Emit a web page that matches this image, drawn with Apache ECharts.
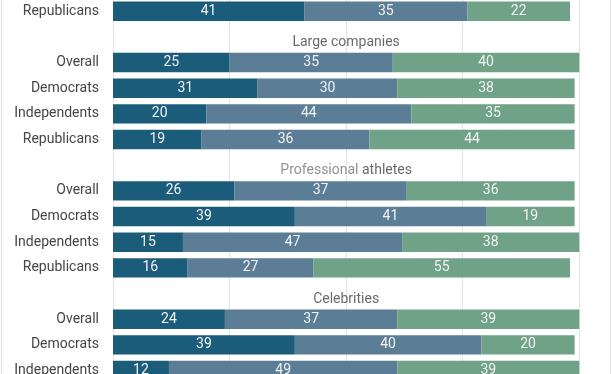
<!DOCTYPE html>
<html>
<head>
<meta charset="utf-8">
<script src="https://cdn.jsdelivr.net/npm/echarts@6/dist/echarts.min.js"></script>
<style>
html,body{margin:0;padding:0;background:#fff;}
#chart{width:612px;height:374px;}
</style>
</head>
<body>
<div id="chart"></div>
<script>
// Row labels (empty rows hold the group titles)
const categories = ['Republicans', '', 'Overall', 'Democrats', 'Independents', 'Republicans', '', 'Overall', 'Democrats', 'Independents', 'Republicans', '', 'Overall', 'Democrats', 'Independents'];
const titleRows = [1, 6, 11];
const groupTitles = ['Large companies', 'Professional athletes', 'Celebrities'];
const seg1 = [41, null, 25, 31, 20, 19, null, 26, 39, 15, 16, null, 24, 39, 12];
const seg2 = [35, null, 35, 30, 44, 36, null, 37, 41, 47, 27, null, 37, 40, 49];
const seg3 = [22, null, 40, 38, 35, 44, null, 36, 19, 38, 55, null, 39, 20, 39];
const xTicks = [0, 25, 50, 75, 100];

const colors = ['#1b5c7b', '#5b7e96', '#6fa287'];
const chart = echarts.init(document.getElementById('chart'));

const segLabel = {
  show: true, position: 'inside', color: '#f2f2f2',
  fontFamily: 'Roboto', fontSize: 14,
  formatter: p => (p.value == null ? '' : p.value)
};
function barSeries(name, data, color) {
  return {
    name, type: 'bar', stack: 'all', data, barWidth: 19.4,
    itemStyle: { color }, label: segLabel, emphasis: { disabled: true }
  };
}

chart.setOption({
  animation: false,
  grid: { left: 113, width: 466.3, top: -1.63, height: 385, containLabel: false, outerBoundsMode: 'none' },
  xAxis: {
    type: 'value', min: xTicks[0], max: xTicks[xTicks.length - 1], interval: 25,
    axisLabel: { show: false }, axisLine: { show: false }, axisTick: { show: false },
    splitLine: { show: true, lineStyle: { color: '#e3e3e3', width: 1 } }
  },
  yAxis: {
    type: 'category', data: categories, inverse: true,
    axisLine: { show: false }, axisTick: { show: false },
    axisLabel: { color: '#454545', fontFamily: 'Roboto', fontSize: 14, margin: 14 }
  },
  graphic: [
    { type: 'line', shape: { x1: 1.5, y1: 0, x2: 1.5, y2: 374 }, style: { stroke: '#e2e2e2', lineWidth: 1 } },
    { type: 'line', shape: { x1: 610.5, y1: 0, x2: 610.5, y2: 374 }, style: { stroke: '#e2e2e2', lineWidth: 1 } }
  ],
  series: [
    barSeries('Seg1', seg1, colors[0]),
    barSeries('Seg2', seg2, colors[1]),
    barSeries('Seg3', seg3, colors[2]),
    {
      type: 'scatter', symbolSize: 0, silent: true,
      data: titleRows.map((r, i) => ({ value: [50, r], name: groupTitles[i] })),
      label: {
        show: true, position: 'inside', offset: [0, 5.5],
        fontFamily: 'Roboto', fontSize: 14, color: '#444',
        formatter: p => p.name === 'Professional athletes' ? '{a|Professional} {b|athletes}' : p.name,
        rich: {
          a: { color: '#757575', fontFamily: 'Roboto', fontSize: 14 },
          b: { color: '#444', fontFamily: 'Roboto', fontSize: 14 }
        }
      }
    }
  ]
});
</script>
</body>
</html>
